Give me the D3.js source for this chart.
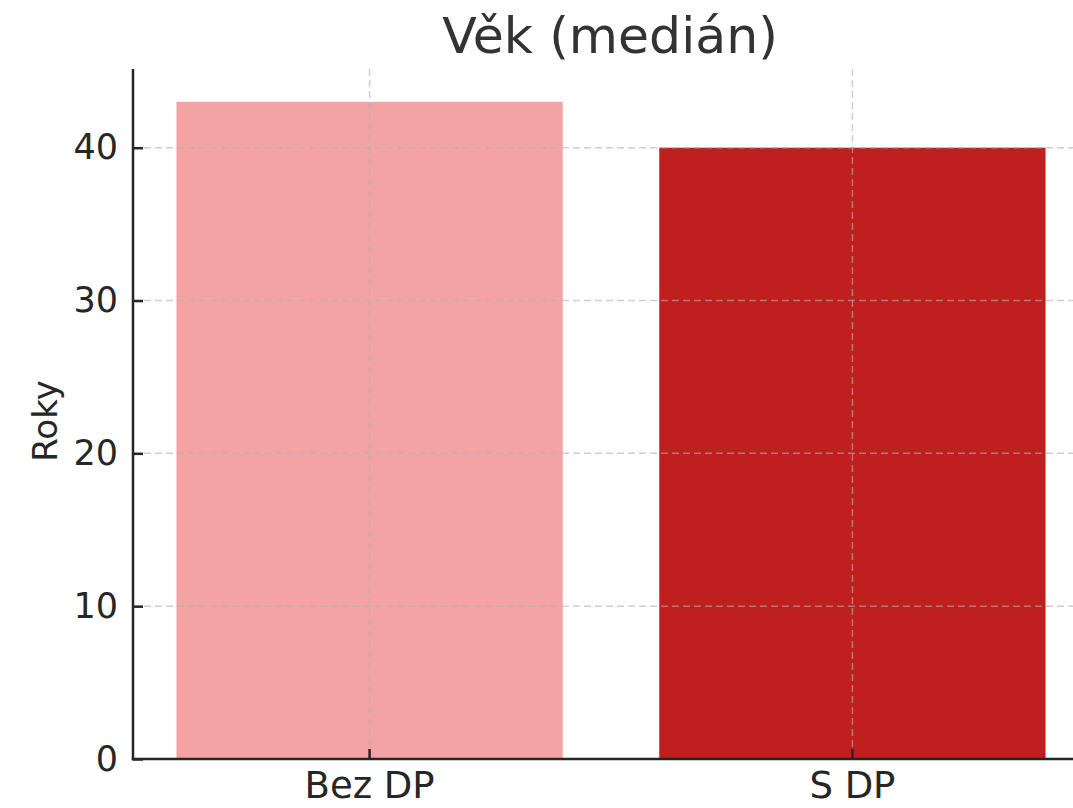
<!DOCTYPE html>
<html>
<head>
<meta charset="utf-8">
<script src="https://cdn.jsdelivr.net/npm/d3@7"></script>
<style>
  body { margin: 0; background: #fff; }
  svg { display: block; font-family: "DejaVu Sans", sans-serif; }
</style>
</head>
<body>
<svg id="chart" width="1073" height="808"></svg>
<script>
const categories = ["Bez DP", "S DP"]
const values = [43, 40]
const colors = ["#f4a3a4", "#c01f1f"]
const yTicks = [0, 10, 20, 30, 40]

const svg = d3.select("#chart")

const plotLeft = 133, plotBottom = 759, plotTop = 69
const plotRight = 1089 // axes run past the window edge, like the original

const x = d3.scaleBand()
    .domain(categories)
    .range([plotLeft, plotRight])
    .paddingInner(0.2)
    .paddingOuter(0.09)

const y = d3.scaleLinear()
    .domain([0, d3.max(values) * 1.05])
    .range([plotBottom, plotTop])

const ink = "#262626"

// bars
svg.append("g")
    .selectAll("rect")
    .data(values)
    .join("rect")
    .attr("x", (d, i) => x(categories[i]))
    .attr("width", x.bandwidth())
    .attr("y", d => y(d))
    .attr("height", d => y(0) - y(d))
    .attr("fill", (d, i) => colors[i])

// grid on top of bars
const grid = svg.append("g")
    .attr("stroke", "#b0b0b0")
    .attr("stroke-opacity", 0.6)
    .attr("stroke-width", 1.5)
    .attr("stroke-dasharray", "7,4")

grid.selectAll(".hg")
    .data(yTicks)
    .join("line")
    .attr("x1", plotLeft).attr("x2", plotRight)
    .attr("y1", d => y(d)).attr("y2", d => y(d))

grid.selectAll(".vg")
    .data(categories)
    .join("line")
    .attr("x1", d => x(d) + x.bandwidth() / 2)
    .attr("x2", d => x(d) + x.bandwidth() / 2)
    .attr("y1", plotTop).attr("y2", plotBottom)

// y axis, ticks pointing inward
const yAxis = svg.append("g")
    .attr("transform", `translate(${plotLeft},0)`)
    .call(d3.axisRight(y).tickValues(yTicks).tickSize(10).tickFormat(d3.format("d")))

yAxis.select(".domain").remove()
yAxis.selectAll("line").attr("stroke", ink).attr("stroke-width", 2.5)
yAxis.selectAll("text")
    .attr("x", -15)
    .attr("text-anchor", "end")
    .attr("font-size", 35)
    .attr("font-family", "DejaVu Sans")
    .attr("fill", ink)

// x axis, ticks pointing inward
const xAxis = svg.append("g")
    .attr("transform", `translate(0,${plotBottom})`)
    .call(d3.axisTop(x).tickSize(10))

xAxis.select(".domain").remove()
xAxis.selectAll("line").attr("stroke", ink).attr("stroke-width", 2.5)
xAxis.selectAll("text")
    .attr("y", 39)
    .attr("font-size", 37)
    .attr("font-family", "DejaVu Sans")
    .attr("fill", ink)

// spines
svg.append("line")
    .attr("x1", plotLeft).attr("x2", plotLeft)
    .attr("y1", plotTop).attr("y2", plotBottom + 1.25)
    .attr("stroke", ink).attr("stroke-width", 2.5)

svg.append("line")
    .attr("x1", plotLeft - 1.25).attr("x2", plotRight)
    .attr("y1", plotBottom).attr("y2", plotBottom)
    .attr("stroke", ink).attr("stroke-width", 2.5)

// labels
svg.append("text")
    .attr("x", 610)
    .attr("y", 53)
    .attr("text-anchor", "middle")
    .attr("font-size", 50.5)
    .attr("fill", "#333")
    .text("Věk (medián)")

svg.append("text")
    .attr("transform", `translate(57,421) rotate(-90)`)
    .attr("text-anchor", "middle")
    .attr("font-size", 34)
    .attr("fill", ink)
    .text("Roky")
</script>
</body>
</html>
